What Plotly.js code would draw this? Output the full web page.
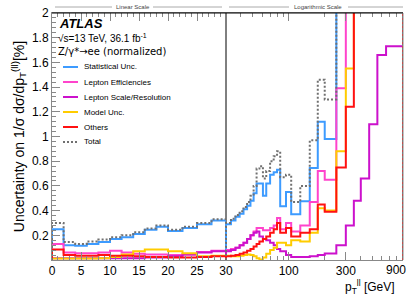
<!DOCTYPE html>
<html><head><meta charset="utf-8">
<script src="https://cdn.plot.ly/plotly-3.0.1.min.js"></script>
<style>html,body{margin:0;padding:0;background:#fff}#chart{width:411px;height:297px}</style>
</head><body><div id="chart"></div>
<script>
// Bin edges (GeV)
const linEdges = [0,2,4,6,8,10,12,14,16,18,20,22.5,25,27.5,30];
const logEdges = [30,33,36,39,42,45,48,51,54,57,61,65,70,75,80,85,95,105,125,150,175,200,250,300,350,400,470,550,650,900];

const seriesNames = ['Statistical Unc.','Lepton Efficiencies','Lepton Scale/Resolution','Model Unc.','Others','Total'];
const seriesColors = ['#3d9bff','#ff44cc','#cc11cc','#ffcc00','#ff1111','#707070'];

// Uncertainties [%], linear part (0-30 GeV)
const statLin   = [0.25,0.12,0.115,0.13,0.145,0.17,0.185,0.21,0.245,0.27,0.235,0.26,0.29,0.32];
const lepEffLin = [0.13,0.06,0.055,0.055,0.06,0.075,0.06,0.05,0.045,0.045,0.04,0.045,0.065,0.075];
const lepScaLin = [0.015,0.015,0.015,0.015,0.015,0.015,0.015,0.015,0.02,0.02,0.03,0.045,0.06,0.07];
const modelLin  = [0.012,0.012,0.012,0.012,0.015,0.025,0.045,0.07,0.085,0.085,0.07,0.055,0.03,0.035];
const othersLin = [0.085,0.04,0.035,0.035,0.04,0.035,0.035,0.03,0.025,0.025,0.02,0.02,0.025,0.03];
const totalLin  = [0.30,0.145,0.13,0.15,0.165,0.185,0.2,0.225,0.255,0.28,0.245,0.27,0.3,0.33];

// Uncertainties [%], logarithmic part (30-900 GeV)
const statLog   = [0.29,0.32,0.35,0.375,0.41,0.44,0.48,0.54,0.62,0.62,0.52,0.62,0.69,0.71,0.73,0.435,0.55,0.37,0.475,0.745,1.12,0.98,2.6,3.2,3.8,4.5,5.5,7.0,9.0];
const lepEffLog = [0.08,0.09,0.1,0.12,0.14,0.17,0.2,0.23,0.26,0.26,0.24,0.24,0.26,0.28,0.34,0.25,0.30,0.23,0.28,0.47,0.72,0.65,1.39,2.6,3.2,4.0,5.0,6.0,7.5];
const lepScaLog = [0.07,0.08,0.1,0.12,0.14,0.17,0.2,0.22,0.23,0.19,0.17,0.16,0.14,0.12,0.09,0.07,0.04,0.025,0.025,0.03,0.04,0.052,0.12,0.28,0.48,0.66,1.10,1.66,1.73];
const modelLog  = [0.035,0.03,0.03,0.035,0.04,0.045,0.04,0.03,0.015,0.005,0.02,0.05,0.08,0.10,0.14,0.14,0.12,0.16,0.15,0.22,0.42,0.40,0.88,1.55,2.4,3.0,3.6,4.2,5.0];
const othersLog = [0.03,0.035,0.04,0.05,0.06,0.075,0.09,0.11,0.13,0.15,0.17,0.19,0.22,0.25,0.30,0.22,0.26,0.19,0.22,0.25,0.45,0.39,0.75,1.24,2.5,3.1,3.7,4.4,5.2];
const totalLog  = [0.30,0.335,0.365,0.395,0.43,0.47,0.52,0.6,0.74,0.76,0.66,0.72,0.8,0.84,0.88,0.67,0.69,0.47,0.6,0.97,1.46,1.30,3.0,3.8,4.5,5.2,6.3,7.8,9.8];

const linSeries = [statLin, lepEffLin, lepScaLin, modelLin, othersLin, totalLin];
const logSeries = [statLog, lepEffLog, lepScaLog, modelLog, othersLog, totalLog];

function stepXY(edges, vals){
  const x=[edges[0]], y=[0];
  for(let i=0;i<vals.length;i++){ x.push(edges[i]); y.push(vals[i]); }
  x.push(edges[edges.length-1]); y.push(vals[vals.length-1]);
  x.push(edges[edges.length-1]); y.push(0);
  return {x,y};
}

const traces = [];
seriesNames.forEach((name,i)=>{
  const isTot = (i===5);
  const line = {color: seriesColors[i], width: 2, shape:'hv', dash: isTot ? '2px,2px' : 'solid'};
  const a = stepXY(linEdges, linSeries[i]);
  traces.push({type:'scatter', mode:'lines', name, x:a.x, y:a.y, xaxis:'x', yaxis:'y', line, showlegend:false, hoverinfo:'skip'});
  const b = stepXY(logEdges, logSeries[i]);
  traces.push({type:'scatter', mode:'lines', name, x:b.x, y:b.y, xaxis:'x2', yaxis:'y', line, showlegend:false, hoverinfo:'skip'});
});

// geometry helpers (pixel -> paper)
const L=52, R=403, T=13, B=260;
const px = v => (v-L)/(R-L);
const py = v => (B-v)/(B-T);
const fLin = px(226);

const FONT = 'Liberation Sans, Arial, Helvetica, sans-serif';
const axCol = '#888';

const shapes = [
  {type:'line', xref:'paper', yref:'paper', x0:fLin, x1:fLin, y0:0, y1:1, line:{color:'#000', width:1}, layer:'below'},
  {type:'line', xref:'paper', yref:'paper', x0:0, x1:1, y0:1, y1:1, line:{color:'#000', width:1}},
  {type:'line', xref:'paper', yref:'paper', x0:1, x1:1, y0:0, y1:1, line:{color:axCol, width:1}},
  // scale labels decorations
  {type:'line', xref:'paper', yref:'paper', x0:px(55), x1:px(112), y0:py(7), y1:py(7), line:{color:'#aaa', width:1}},
  {type:'line', xref:'paper', yref:'paper', x0:px(153), x1:px(222), y0:py(7), y1:py(7), line:{color:'#aaa', width:1}},
  {type:'line', xref:'paper', yref:'paper', x0:px(229), x1:px(289), y0:py(7), y1:py(7), line:{color:'#aaa', width:1}},
  {type:'line', xref:'paper', yref:'paper', x0:px(348), x1:px(403), y0:py(7), y1:py(7), line:{color:'#aaa', width:1}}
];

const annotations = [
  {text:'Linear Scale', xref:'paper', yref:'paper', x:px(132.5), y:py(7), showarrow:false, font:{size:6, color:'#444', family:FONT}, xanchor:'center', yanchor:'middle'},
  {text:'Logarithmic Scale', xref:'paper', yref:'paper', x:px(318), y:py(7), showarrow:false, font:{size:6, color:'#444', family:FONT}, xanchor:'center', yanchor:'middle'},
  {text:'<b><i>ATLAS</i></b>', xref:'paper', yref:'paper', x:px(57), y:py(23), showarrow:false, font:{size:13, color:'#000', family:FONT}, xanchor:'left', yanchor:'middle'},
  {text:'√s=13 TeV, 36.1 fb<sup>-1</sup>', xref:'paper', yref:'paper', x:px(56), y:py(38), showarrow:false, font:{size:10, color:'#000', family:FONT}, xanchor:'left', yanchor:'middle'},
  {text:'Z/γ*→ee (normalized)', xref:'paper', yref:'paper', x:px(56), y:py(51), showarrow:false, font:{size:10, color:'#000', family:'DejaVu Sans, '+FONT}, xanchor:'left', yanchor:'middle'},
  {text:'p<sub>T</sub><sup>ll</sup> [GeV]', xref:'paper', yref:'paper', x:px(397), y:py(287), showarrow:false, font:{size:12, color:'#000', family:FONT}, xanchor:'right', yanchor:'middle'},
  {text:'900', xref:'paper', yref:'paper', x:px(396), y:py(270), showarrow:false, font:{size:12, color:'#000', family:FONT}, xanchor:'center', yanchor:'middle'}
];

seriesNames.forEach((name,i)=>{
  const yy = py(67 + 15*i);
  shapes.push({type:'line', xref:'paper', yref:'paper', x0:px(63), x1:px(78), y0:yy, y1:yy,
    line:{color:seriesColors[i], width:2, dash: i===5 ? '2px,2px' : 'solid'}});
  annotations.push({text:name, xref:'paper', yref:'paper', x:px(82), y:yy, showarrow:false,
    font:{size:8, color:'#000', family:FONT}, xanchor:'left', yanchor:'middle'});
});

const layout = {
  width:411, height:297,
  margin:{l:L, r:411-R, t:T, b:297-B, pad:0},
  paper_bgcolor:'#fff', plot_bgcolor:'#fff',
  showlegend:false,
  font:{family:FONT, size:12, color:'#000'},
  xaxis:{domain:[0,fLin], range:[0,30], anchor:'y', tickmode:'array', tickvals:[0,5,10,15,20,25,30],
    ticks:'inside', ticklen:8, tickcolor:axCol, showline:true, linecolor:axCol, mirror:'ticks',
    showgrid:false, zeroline:false, tickfont:{size:12},
    minor:{dtick:1, tick0:0, ticks:'inside', ticklen:4, tickcolor:axCol}},
  xaxis2:{domain:[fLin,1], type:'log', range:[Math.log10(30), Math.log10(900)], anchor:'y',
    tickmode:'array', tickvals:[100,300], ticktext:['100','300'],
    ticks:'inside', ticklen:8, tickcolor:axCol, showline:true, linecolor:axCol, mirror:'ticks',
    showgrid:false, zeroline:false, tickfont:{size:12},
    minor:{tickmode:'array', tickvals:[40,50,60,70,80,90,200,400,500,600,700,800,900], ticks:'inside', ticklen:4, tickcolor:axCol}},
  yaxis:{range:[0,2], anchor:'x', tickmode:'array', tickvals:[0.2,0.4,0.6,0.8,1,1.2,1.4,1.6,1.8,2],
    ticktext:['0.2','0.4','0.6','0.8','1','1.2','1.4','1.6','1.8','2'],
    ticks:'inside', ticklen:8, tickcolor:axCol, showline:true, linecolor:axCol,
    showgrid:false, zeroline:false, tickfont:{size:12},
    minor:{dtick:0.04, tick0:0, ticks:'inside', ticklen:4, tickcolor:axCol},
    title:{text:'Uncertainty on 1/σ dσ/dp<sub>T</sub><sup>(ll)</sup>[%]', font:{size:14}, standoff:4}},
  shapes, annotations
};

Plotly.newPlot('chart', traces, layout, {staticPlot:true, displayModeBar:false});
</script>
</body></html>
